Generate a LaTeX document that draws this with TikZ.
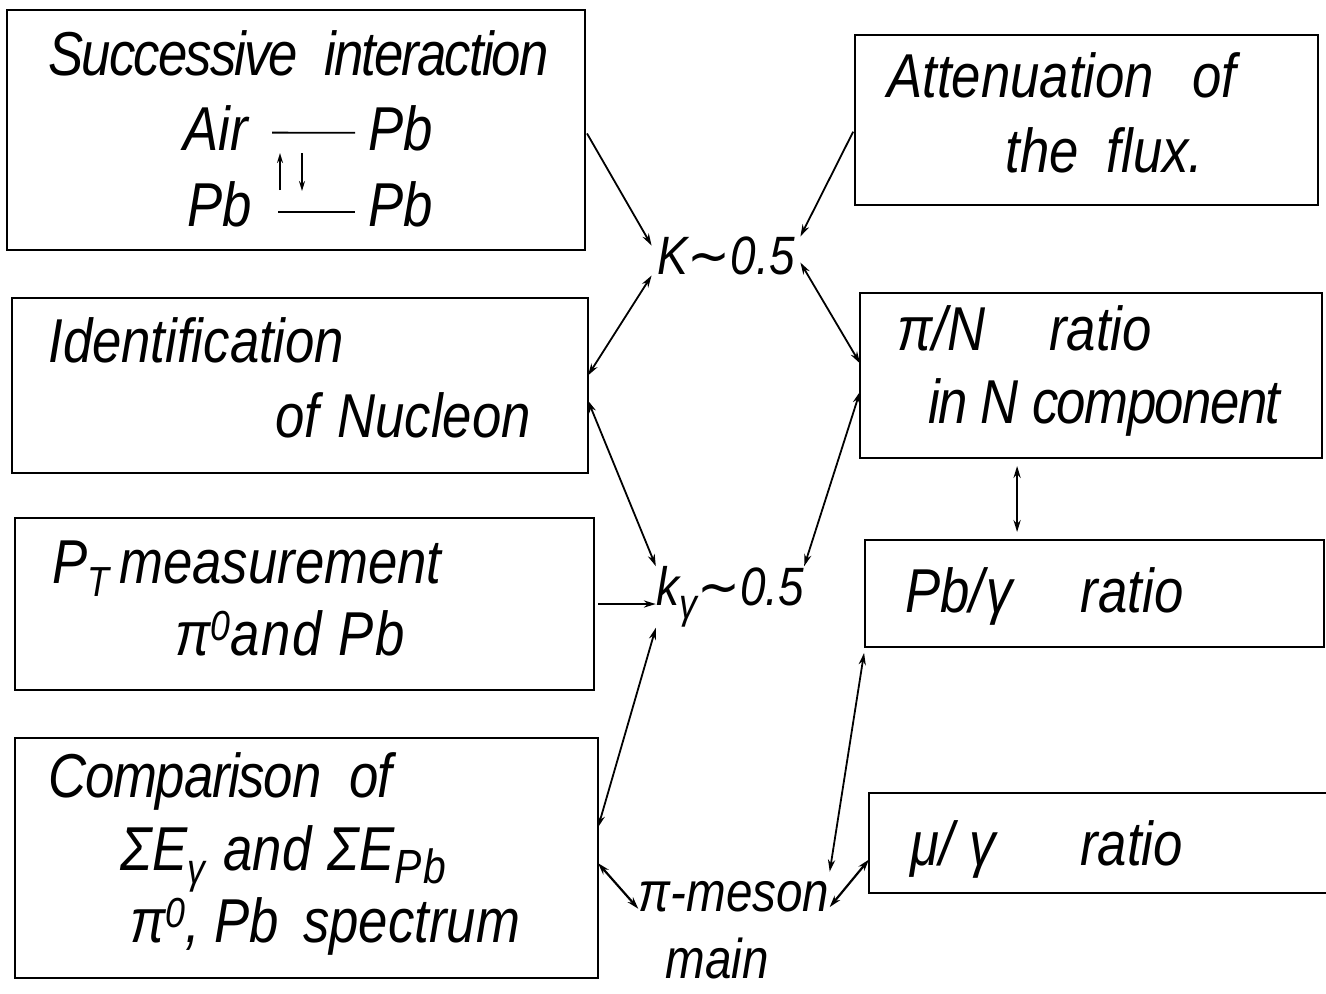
\documentclass[tikz,border=0pt]{standalone}
\usepackage{fontspec}
\setmainfont{Liberation Sans}[FakeStretch=0.85]
\newfontfamily\symf{DejaVu Sans}[FakeStretch=0.95]
\usetikzlibrary{arrows.meta,fit,calc}
% subscripts and superscripts a little larger than the defaults
\newcommand\lowidx[1]{\raisebox{-6.5pt}{\fontsize{21}{21}\selectfont #1}}
\newcommand\highidx[1]{\raisebox{7.5pt}{\fontsize{21}{21}\selectfont #1}}

\begin{document}
\begin{tikzpicture}[x=0.5pt,y=-0.5pt,
  box/.style={draw, line width=1.3pt, inner sep=0pt, outer sep=0pt},
  txt/.style={anchor=base west, inner sep=0pt, font=\fontsize{31}{36}\selectfont\itshape},
  mid/.style={inner sep=0pt, font=\fontsize{27}{30}\selectfont\itshape},
  tip/.tip={Stealth[length=6pt,width=3.6pt]},
  link/.style={line width=0.9pt, tip-tip},
  into/.style={line width=0.9pt, -tip},
]
\useasboundingbox (0,0) rectangle (1326,993);
\fill[white] (0,0) rectangle (1326,993);

% ---- boxes, left column
\node[box, fit={(7,10) (585,250)}]   (succ)  {};
\node[box, fit={(12,298) (588,473)}] (ident) {};
\node[box, fit={(15,518) (594,690)}] (PT)    {};
\node[box, fit={(15,738) (598,978)}] (comp)  {};
% ---- boxes, right column
\node[box, fit={(855,35) (1318,205)}]   (att) {};
\node[box, fit={(860,293) (1322,458)}]  (piN) {};
\node[box, fit={(865,540) (1324,647)}]  (Pbg) {};
\node[box, fit={(869,793) (1340,893)}]  (mug) {};

% ---- texts in the left boxes
\node[txt] (succT) at (48,75) {\addfontfeature{LetterSpace=-3}Successive\hspace{13pt}interaction};
\node[txt] (air)  at (183,150) {Air};
\node[txt] (pbA)  at (368,150) {Pb};
\node[txt] (pbB)  at (187,226) {Pb};
\node[txt] (pbC)  at (368,226) {Pb};
\draw[line width=0.9pt, shorten <=12pt, shorten >=6.5pt] ([yshift=-2.5pt]air.east) -- ([yshift=-2.5pt]pbA.west);
\draw[line width=0.9pt, shorten <=13pt, shorten >=6.5pt] ([yshift=-4pt]pbB.east) -- ([yshift=-4pt]pbC.west);
\draw[line width=0.9pt, -{Stealth[length=5pt,width=3pt]}] (280,190) -- (280,153);
\draw[line width=0.9pt, -{Stealth[length=5pt,width=3pt]}] (302,153) -- (302,191);

\node[txt] (identA) at (48,362)  {Identification};
\node[txt] (identB) at (275,437) {of\hspace{9pt}Nucleon};

\node[txt] (ptA) at (52,583)  {P\lowidx{T}\hspace{5pt}measurement};
\node[txt] (ptB) at (175,655) {\addfontfeature{LetterSpace=3}π\highidx{0}and Pb};

\node[txt] (compA) at (48,797)  {\addfontfeature{LetterSpace=-2}Comparison\hspace{14pt}of};
\node[txt] (compB) at (120,870) {ΣE\lowidx{γ}\hspace{2pt} and\hspace{8pt}ΣE\lowidx{\fontsize{24}{24}\selectfont\addfontfeature{LetterSpace=4}Pb}};
\node[txt] (compC) at (130,942) {π\highidx{0}, Pb\hspace{12pt}spectrum};

% ---- texts in the right boxes
\node[txt] (attA) at (887,97)   {Attenuation\hspace{19pt}of};
\node[txt] (attB) at (1005,172) {the\hspace{14pt}flux.};
\node[txt] (piNA) at (897,350)  {π/N\hspace{32pt}ratio};
\node[txt] (piNB) at (928,423)  {\addfontfeature{LetterSpace=-2.5}in N component};
\node[txt] (PbgT) at (905,612)  {Pb/\hspace{1pt}γ\hspace{34pt}ratio};
\node[txt] (mugT) at (910,865)  {μ/\hspace{8pt}γ\hspace{42pt}ratio};

% ---- central estimates
\node[mid, minimum width=74pt, minimum height=18pt] (Klab) at (726,256)
  {K{\symf ∼}0.5};
\node[mid, minimum width=72pt, minimum height=22pt] (kg) at (730,597)
  {k\lowidx{γ}{\symf ∼}0.5};
\node[mid, font=\fontsize{28}{30}\selectfont\itshape, minimum width=94pt, minimum height=25pt] (pim) at (734,897)
  {π-meson};
\node[txt, font=\fontsize{28}{30}\selectfont\itshape] (pimain) at (665,978) {main};

% ---- connectors
\draw[into, shorten <=2pt] (succ.east) -- (Klab.172);
\draw[into, shorten <=2pt] (att.182) -- (Klab.north east);
\draw[link] (Klab.south west) -- (ident.2);
\draw[link] (Klab.-5) -- (piN.177);
\draw[link] (ident.-3) -- (kg.north west);
\draw[link] (piN.184) -- (kg.north east);
\draw[into, shorten <=2pt] (PT.east) -- (PT.east -| kg.west);
\draw[link] (kg.south west) -- (comp.6);
\draw[link, line width=1.1pt] (comp.-1) -- (pim.187);
\draw[link, line width=1.1pt] (pim.-6) -- (mug.184);
\draw[link, shorten <=3pt] (Pbg.south west) -- (pim.north east);
\coordinate (v) at ($(piN.south west)!0.34!(piN.south east)$);
\draw[link, shorten <=4pt, shorten >=4pt] (v) -- (v |- Pbg.north);
\end{tikzpicture}
\end{document}
